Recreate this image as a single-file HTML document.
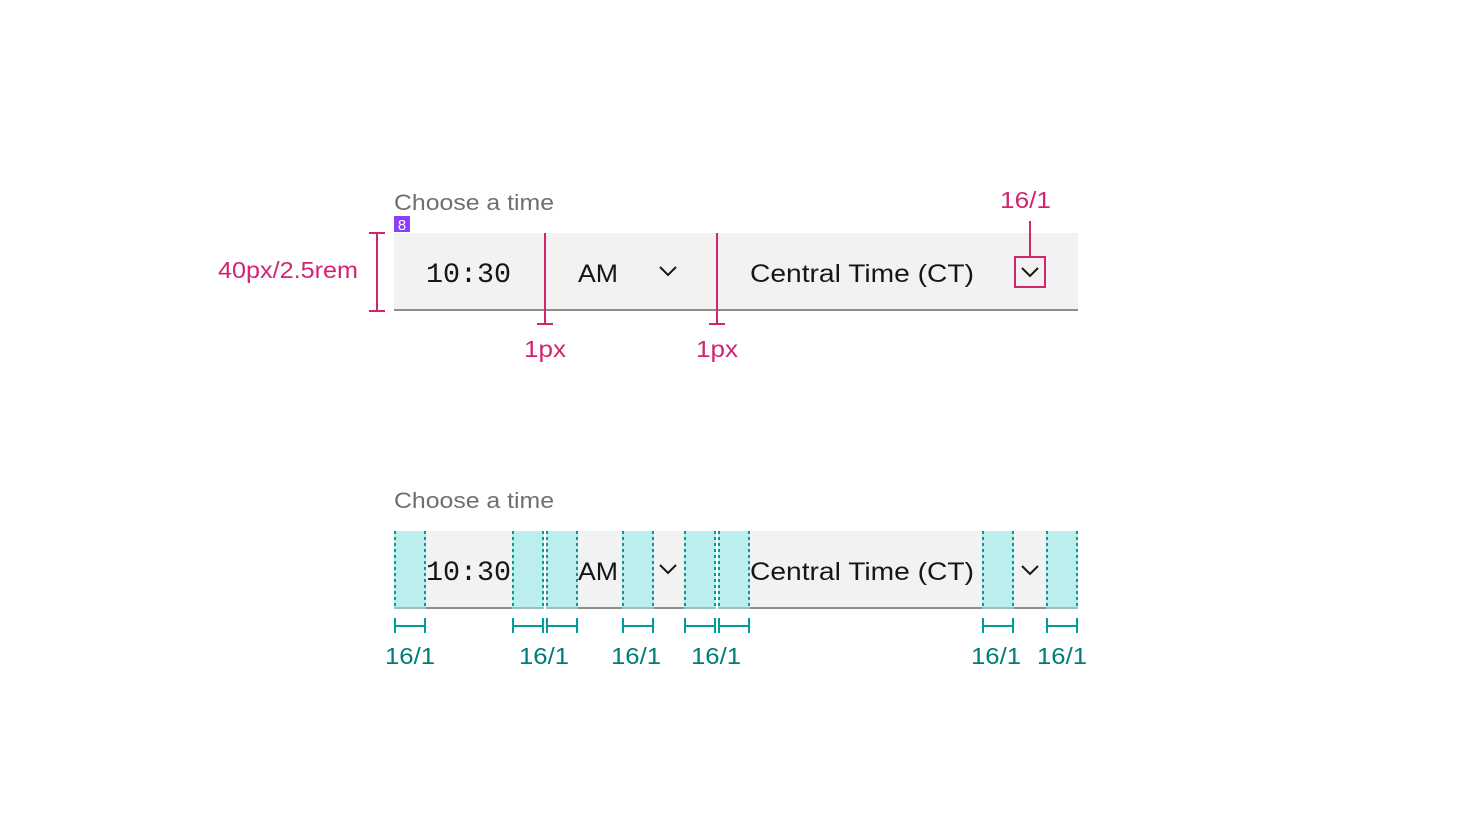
<!DOCTYPE html>
<html><head><meta charset="utf-8"><style>
html,body{margin:0;padding:0;background:#fff;}
svg{display:block;}
text{font-family:"Liberation Sans",sans-serif;}
.mono{font-family:"Liberation Mono",monospace;}
</style></head><body>
<svg width="1472" height="826" viewBox="0 0 1472 826" xmlns="http://www.w3.org/2000/svg">
<!-- TOP -->
<text x="394" y="210" font-size="22" fill="#6f6f6f" textLength="160" lengthAdjust="spacingAndGlyphs">Choose a time</text>
<rect x="394" y="216" width="16" height="16" fill="#8a3ffc"/>
<text x="402" y="230" font-size="15" fill="#fff" text-anchor="middle" class="mono">8</text>
<rect x="394" y="233" width="684" height="77" fill="#f2f2f2"/>
<rect x="394" y="309" width="684" height="2" fill="#8d8d8d"/>
<text x="426" y="282" font-size="28" fill="#161616" class="mono" textLength="85" lengthAdjust="spacingAndGlyphs">10:30</text>
<text x="578" y="282" font-size="25" fill="#161616" textLength="40" lengthAdjust="spacingAndGlyphs">AM</text>
<polyline points="660,267 668,275 676,267" fill="none" stroke="#161616" stroke-width="2"/>
<text x="750" y="282" font-size="25" fill="#161616" textLength="224" lengthAdjust="spacingAndGlyphs">Central Time (CT)</text>
<polyline points="1022,268 1030,276 1038,268" fill="none" stroke="#161616" stroke-width="2"/>
<g stroke="#d02670" stroke-width="2" fill="none">
<line x1="377" y1="233" x2="377" y2="311"/><line x1="369" y1="233" x2="385" y2="233"/><line x1="369" y1="311" x2="385" y2="311"/>
<line x1="545" y1="233" x2="545" y2="325"/><line x1="537" y1="324" x2="553" y2="324"/>
<line x1="717" y1="233" x2="717" y2="325"/><line x1="709" y1="324" x2="725" y2="324"/>
<rect x="1015" y="257" width="30" height="30"/>
<line x1="1030" y1="221" x2="1030" y2="257"/>
</g>
<g fill="#d02670" font-size="23">
<text x="218" y="278" textLength="140" lengthAdjust="spacingAndGlyphs">40px/2.5rem</text>
<text x="524" y="357" textLength="42" lengthAdjust="spacingAndGlyphs">1px</text>
<text x="696" y="357" textLength="42" lengthAdjust="spacingAndGlyphs">1px</text>
<text x="1000" y="208" textLength="51" lengthAdjust="spacingAndGlyphs">16/1</text>
</g>
<!-- BOTTOM -->
<text x="394" y="508" font-size="22" fill="#6f6f6f" textLength="160" lengthAdjust="spacingAndGlyphs">Choose a time</text>
<rect x="394" y="531" width="684" height="77" fill="#f2f2f2"/>
<rect x="394" y="607" width="684" height="2" fill="#8d8d8d"/>
<rect x="544" y="531" width="2" height="78" fill="#fff"/>
<rect x="716" y="531" width="2" height="78" fill="#fff"/>
<g fill="#bdeeee">
<rect x="394" y="531" width="32" height="78"/><rect x="512" y="531" width="32" height="78"/>
<rect x="546" y="531" width="32" height="78"/><rect x="622" y="531" width="32" height="78"/>
<rect x="684" y="531" width="32" height="78"/><rect x="718" y="531" width="32" height="78"/>
<rect x="982" y="531" width="32" height="78"/><rect x="1046" y="531" width="32" height="78"/>
</g>
<g fill="#9ebfbf">
<rect x="394" y="607" width="32" height="2"/><rect x="512" y="607" width="32" height="2"/>
<rect x="546" y="607" width="32" height="2"/><rect x="622" y="607" width="32" height="2"/>
<rect x="684" y="607" width="32" height="2"/><rect x="718" y="607" width="32" height="2"/>
<rect x="982" y="607" width="32" height="2"/><rect x="1046" y="607" width="32" height="2"/>
</g>
<g stroke="#009d9a" stroke-width="2" stroke-dasharray="3,3">
<line x1="395" y1="531" x2="395" y2="609"/><line x1="425" y1="531" x2="425" y2="609"/>
<line x1="513" y1="531" x2="513" y2="609"/><line x1="543" y1="531" x2="543" y2="609"/>
<line x1="547" y1="531" x2="547" y2="609"/><line x1="577" y1="531" x2="577" y2="609"/>
<line x1="623" y1="531" x2="623" y2="609"/><line x1="653" y1="531" x2="653" y2="609"/>
<line x1="685" y1="531" x2="685" y2="609"/><line x1="715" y1="531" x2="715" y2="609"/>
<line x1="719" y1="531" x2="719" y2="609"/><line x1="749" y1="531" x2="749" y2="609"/>
<line x1="983" y1="531" x2="983" y2="609"/><line x1="1013" y1="531" x2="1013" y2="609"/>
<line x1="1047" y1="531" x2="1047" y2="609"/><line x1="1077" y1="531" x2="1077" y2="609"/>
</g>
<text x="426" y="580" font-size="28" fill="#161616" class="mono" textLength="85" lengthAdjust="spacingAndGlyphs">10:30</text>
<text x="578" y="580" font-size="25" fill="#161616" textLength="40" lengthAdjust="spacingAndGlyphs">AM</text>
<polyline points="660,565 668,573 676,565" fill="none" stroke="#161616" stroke-width="2"/>
<text x="750" y="580" font-size="25" fill="#161616" textLength="224" lengthAdjust="spacingAndGlyphs">Central Time (CT)</text>
<polyline points="1022,566 1030,574 1038,566" fill="none" stroke="#161616" stroke-width="2"/>
<g stroke="#009d9a" stroke-width="2" fill="none">
<path d="M395 618v15M425 618v15M395 626h30"/>
<path d="M513 618v15M543 618v15M513 626h30"/>
<path d="M547 618v15M577 618v15M547 626h30"/>
<path d="M623 618v15M653 618v15M623 626h30"/>
<path d="M685 618v15M715 618v15M685 626h30"/>
<path d="M719 618v15M749 618v15M719 626h30"/>
<path d="M983 618v15M1013 618v15M983 626h30"/>
<path d="M1047 618v15M1077 618v15M1047 626h30"/>
</g>
<g fill="#007d79" font-size="23">
<text x="385" y="664" textLength="50" lengthAdjust="spacingAndGlyphs">16/1</text>
<text x="519" y="664" textLength="50" lengthAdjust="spacingAndGlyphs">16/1</text>
<text x="611" y="664" textLength="50" lengthAdjust="spacingAndGlyphs">16/1</text>
<text x="691" y="664" textLength="50" lengthAdjust="spacingAndGlyphs">16/1</text>
<text x="971" y="664" textLength="50" lengthAdjust="spacingAndGlyphs">16/1</text>
<text x="1037" y="664" textLength="50" lengthAdjust="spacingAndGlyphs">16/1</text>
</g>
</svg>
</body></html>
